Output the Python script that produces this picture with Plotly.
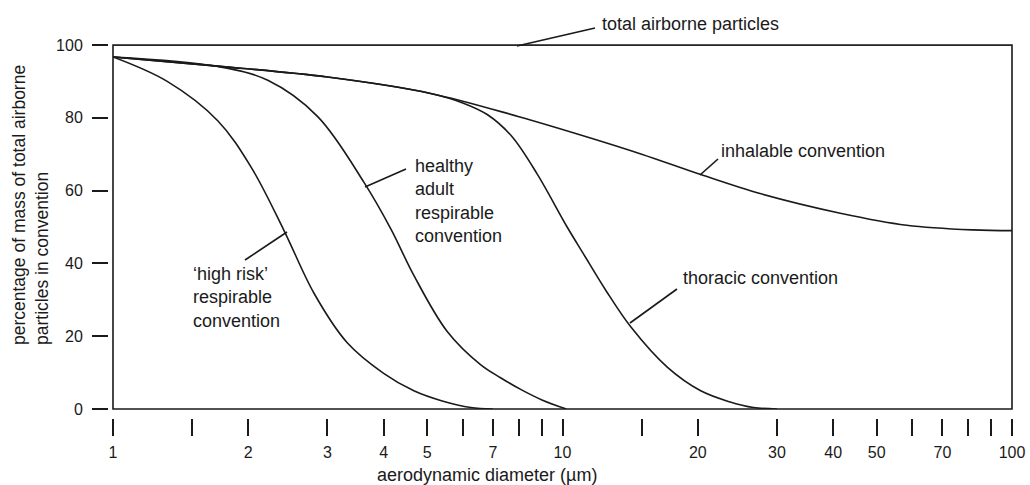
import plotly.graph_objects as go

# ---------------- data ----------------
total_d = [1, 100]
total_v = [100, 100]

inh_d = [1, 1.71, 3, 5.09, 8, 11.3, 15, 20.3, 27.5, 41.5, 58.3, 81.9, 100]
inh_v = [96.7, 94.2, 91.2, 86.7, 80.3, 74.8, 70.0, 64.4, 59.2, 53.8, 50.5, 49.2, 49.0]

tho_d = [1, 1.71, 3, 5.09, 6.0, 6.8, 7.7, 8.78, 10.24, 11.15, 12.5, 14.2, 17.1, 20.3, 23.5, 26.6, 30]
tho_v = [96.7, 94.2, 91.2, 86.7, 84.1, 80.9, 75.0, 64.6, 50.0, 42.5, 32.5, 22.5, 11.5, 5.0, 2.0, 0.4, 0]

resp_d = [1, 1.71, 2.21, 2.85, 3.62, 4.15, 4.67, 5.54, 6.57, 7.28, 8.07, 9.0, 10.2]
resp_v = [96.7, 94.1, 90.3, 80.4, 62.2, 49.5, 36.7, 21.3, 12.2, 8.6, 5.4, 2.5, 0]

hr_d = [1, 1.32, 1.71, 2.03, 2.40, 2.80, 3.32, 4.0, 4.67, 5.4, 6.25, 7.0]
hr_v = [96.7, 90.0, 79.2, 66.4, 49.1, 31.8, 18.2, 9.8, 5.0, 2.2, 0.4, 0]

x_tickvals = [1, 1.5, 2, 3, 4, 5, 6, 7, 8, 9, 10, 15, 20, 30, 40, 50, 60, 70, 80, 90, 100]
x_ticktext = ["1", "", "2", "3", "4", "5", "", "7", "", "", "10", "", "20", "30",
              "40", "50", "", "70", "", "", "100"]
y_tickvals = [0, 20, 40, 60, 80, 100]

# ---------------- figure ----------------
W, H = 1030, 485
def px(x):
    return x / W
def py(y):
    return 1 - y / H

FONT = "Liberation Sans, Arial, Helvetica, sans-serif"
INK = "#1a1a1a"
LW = 1.6

fig = go.Figure()
series = [(total_d, total_v), (inh_d, inh_v), (tho_d, tho_v), (resp_d, resp_v), (hr_d, hr_v)]
for d, v in series:
    fig.add_trace(go.Scatter(x=d, y=v, mode="lines",
                             line=dict(color=INK, width=LW, shape="spline", smoothing=1.0),
                             hoverinfo="skip"))

fig.update_layout(
    width=W, height=H,
    margin=dict(l=0, r=0, t=0, b=0, autoexpand=False),
    paper_bgcolor="white", plot_bgcolor="white",
    showlegend=False,
    font=dict(family=FONT, color=INK, size=16),
    xaxis=dict(type="log", range=[0, 2], domain=[px(113), px(1012)],
               anchor="free", position=py(418), automargin=False,
               showgrid=False, zeroline=False, showline=False,
               ticks="outside", ticklen=17, tickwidth=1.5, tickcolor=INK,
               tickvals=x_tickvals, ticktext=x_ticktext,
               tickfont=dict(size=16, family=FONT, color=INK),
               ticklabelstandoff=3),
    yaxis=dict(range=[0, 100], domain=[py(409), py(45)],
               anchor="free", position=px(108), automargin=False,
               showgrid=False, zeroline=False, showline=False,
               ticks="outside", ticklen=16, tickwidth=1.5, tickcolor=INK,
               tickvals=y_tickvals,
               tickfont=dict(size=16, family=FONT, color=INK),
               ticklabelstandoff=6),
)

# frame of the plotting area
fig.add_shape(type="rect", xref="x domain", yref="y domain", x0=0, x1=1, y0=0, y1=1,
              line=dict(color=INK, width=LW))

# labels
labels = [
    ("total airborne particles", 600, 24),
    ("inhalable convention", 719, 151),
    ("thoracic convention", 681, 278),
    ("healthy<br>adult<br>respirable<br>convention", 413, 201),
    ("\u2018high risk\u2019<br>respirable<br>convention", 191, 297),
]
for txt, x, y in labels:
    fig.add_annotation(text=txt, xref="paper", yref="paper", x=px(x), y=py(y),
                       xanchor="left", yanchor="middle", align="left", showarrow=False,
                       font=dict(size=18, family=FONT, color=INK))

# leader lines
leaders = [
    (517, 46, 595, 28),
    (700, 175, 718, 159),
    (630, 323, 677, 289),
    (365, 187, 406, 169),
    (287, 232, 245, 260),
]
for x0, y0, x1, y1 in leaders:
    fig.add_shape(type="line", xref="paper", yref="paper",
                  x0=px(x0), y0=py(y0), x1=px(x1), y1=py(y1),
                  line=dict(color=INK, width=LW))

# axis titles
fig.add_annotation(text="aerodynamic diameter (\u00b5m)", xref="paper", yref="paper",
                   x=px(487), y=py(475), xanchor="center", yanchor="middle",
                   showarrow=False, font=dict(size=18, family=FONT, color=INK))
fig.add_annotation(text="percentage of mass of total airborne<br>particles in convention",
                   xref="paper", yref="paper", x=px(30), y=py(347),
                   xanchor="center", yanchor="bottom", align="left", textangle=-90,
                   showarrow=False, font=dict(size=17.5, family=FONT, color=INK))

fig.write_html("out.html")
